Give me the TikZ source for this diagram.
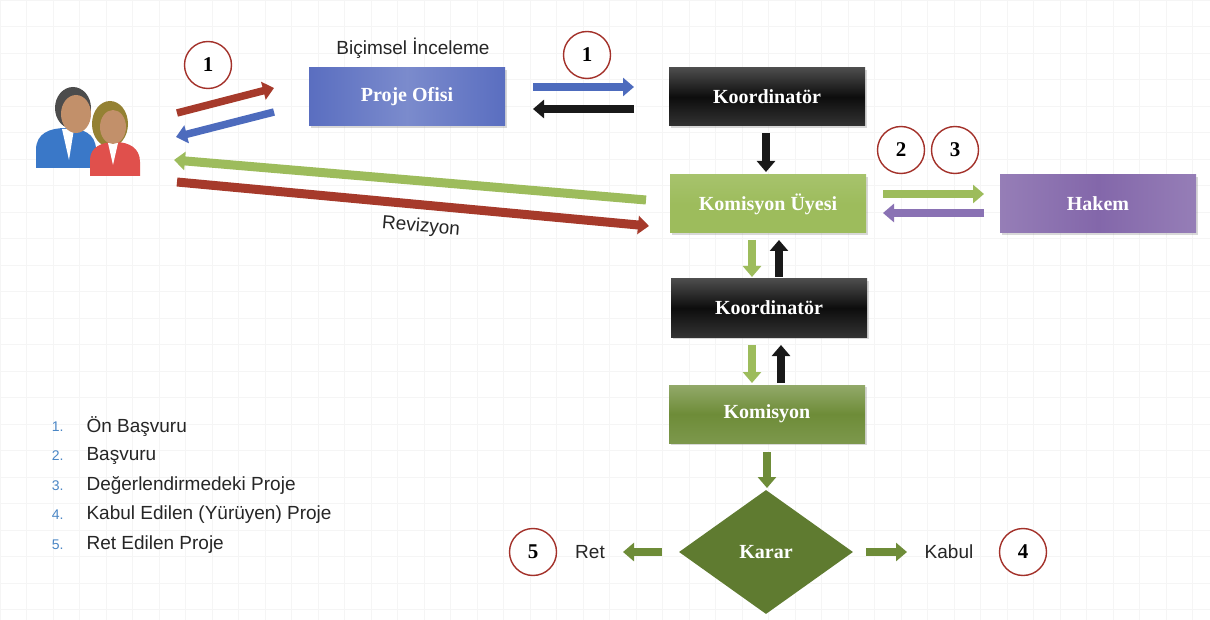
\documentclass[tikz,border=0pt]{standalone}
\usepackage{fontspec}
\setmainfont{Liberation Sans}
\newfontfamily\boxfont{Liberation Serif}
\usetikzlibrary{arrows.meta,shapes.geometric,shadows}

\definecolor{ofisblue}{HTML}{5A6EC0}
\definecolor{uyegreen}{HTML}{9DBC5C}
\definecolor{hakempurple}{HTML}{8367AA}
\definecolor{komolive}{HTML}{6E8C38}
\definecolor{kararolive}{HTML}{5F7B30}
\definecolor{arrred}{HTML}{A63A2B}
\definecolor{arrblue}{HTML}{4D6BBD}
\definecolor{arrpurple}{HTML}{8A72B4}
\definecolor{circred}{HTML}{A3312A}
\definecolor{listblue}{HTML}{4A86C5}
\definecolor{skin}{HTML}{C2906A}
\definecolor{manblue}{HTML}{3A78C8}
\definecolor{womanred}{HTML}{E0504C}

\begin{document}
\begin{tikzpicture}[x=1pt,y=-1pt,
    stagebox/.style={minimum width=196pt,minimum height=58pt,inner sep=0pt,text=white,
      font=\boxfont\bfseries\fontsize{20}{24}\selectfont,
      drop shadow={opacity=0.3,shadow xshift=1.5pt,shadow yshift=-2pt}},
    numcircle/.style={circle,draw=circred,line width=1.4pt,fill=white,minimum size=47pt,
      inner sep=0pt,font=\boxfont\bfseries\fontsize{21}{24}\selectfont},
    blockarrow/.style={line width=7.5pt,-{Triangle[length=11pt,width=18pt]}},
    plaintext/.style={font=\fontsize{19}{22}\selectfont,text=black!85}]

    % Fix the page and draw the faint grid
    \useasboundingbox (0,0) rectangle (1210,620);
    \fill[white] (0,0) rectangle (1210,620);
    \draw[black!4,step=26.5pt] (0,0) grid (1210,620);

    % Draw the applicants
    \fill[manblue] (36,168) -- (36,150) .. controls (36,133) and (50,128) .. (66,128)
        .. controls (82,128) and (96,133) .. (96,150) -- (96,168) -- cycle;
    \fill[white] (62,129) -- (74,129) -- (69,160) -- cycle;
    \fill[black!70] (73,108) ellipse [x radius=18, y radius=21];
    \fill[skin] (76,114) ellipse [x radius=15, y radius=19];
    \fill[black!25!olive!60!brown] (110,124) ellipse [x radius=18, y radius=23];
    \fill[womanred] (90,176) -- (90,160) .. controls (90,147) and (102,142) .. (115,142)
        .. controls (129,142) and (140,148) .. (140,162) -- (140,176) -- cycle;
    \fill[white] (108,143) -- (118,143) -- (113,165) -- cycle;
    \fill[skin] (113,127) ellipse [x radius=13, y radius=17];

    % Draw the boxes
    \node[stagebox,left color=ofisblue,right color=ofisblue,middle color=ofisblue!80!white] (ofis) at (407,97) {Proje Ofisi};
    \node[stagebox,top color=black!70,bottom color=black!80,middle color=black!95] (koord1) at (767,97) {Koordinatör};
    \node[stagebox,top color=uyegreen!90!white,bottom color=uyegreen,middle color=uyegreen] (uye) at (768,204) {Komisyon Üyesi};
    \node[stagebox,left color=hakempurple!85!white,right color=hakempurple!85!white,middle color=hakempurple] (hakem) at (1098,204) {Hakem};
    \node[stagebox,top color=black!70,bottom color=black!80,middle color=black!95] (koord2) at (769,308) {Koordinatör};
    \node[stagebox,top color=komolive!75!white,bottom color=komolive!90!white,middle color=komolive] (komisyon) at (767,414) {Komisyon};
    \node[diamond,fill=kararolive,minimum width=174pt,minimum height=124pt,aspect=1.4,inner sep=0pt,
        text=white,font=\boxfont\bfseries\fontsize{20}{24}\selectfont] (karar) at (766,552) {Karar};

    % Label the steps
    \node[plaintext] (bicimsel) at (413,48) {Biçimsel İnceleme};
    \node[plaintext,rotate=-5] (revizyon) at (421,227) {Revizyon};
    \node[plaintext] (ret) at (590,552) {Ret};
    \node[plaintext] (kabul) at (949,552) {Kabul};

    % Draw the numbered circles
    \node[numcircle] (c1a) at (208,65) {1};
    \node[numcircle] (c1b) at (587,55) {1};
    \node[numcircle] (c2) at (901,150) {2};
    \node[numcircle] (c3) at (955,150) {3};
    \node[numcircle] (c5) at (533,552) {5};
    \node[numcircle] (c4) at (1023,552) {4};

    % Arrow end points
    \coordinate (a1) at (177,113); \coordinate (a2) at (274,88);
    \coordinate (b1) at (274,112); \coordinate (b2) at (176,137);
    \coordinate (c1) at (533,87);  \coordinate (c2r) at (634,87);
    \coordinate (d1) at (634,109); \coordinate (d2) at (533,109);
    \coordinate (e1) at (766,133); \coordinate (e2) at (766,172);
    \coordinate (g1) at (646,200); \coordinate (g2) at (174,160);
    \coordinate (h1) at (177,182); \coordinate (h2) at (649,226);
    \coordinate (k1) at (883,194); \coordinate (k2) at (984,194);
    \coordinate (m1) at (984,213); \coordinate (m2) at (883,213);
    \coordinate (n1) at (752,240); \coordinate (n2) at (752,277);
    \coordinate (p1) at (779,277); \coordinate (p2) at (779,240);
    \coordinate (q1) at (752,345); \coordinate (q2) at (752,383);
    \coordinate (s1) at (781,383); \coordinate (s2) at (781,345);
    \coordinate (t1) at (767,452); \coordinate (t2) at (767,488);
    \coordinate (u1) at (662,552); \coordinate (u2) at (623,552);
    \coordinate (v1) at (866,552); \coordinate (v2) at (907,552);

    % Draw the arrows
    \draw[blockarrow,arrred] (a1) -- (a2);
    \draw[blockarrow,arrblue] (b1) -- (b2);
    \draw[blockarrow,arrblue] (c1) -- (c2r);
    \draw[blockarrow,black!90] (d1) -- (d2);
    \draw[blockarrow,black!90] (e1) -- (e2);
    \draw[blockarrow,uyegreen,line width=9pt] (g1) -- (g2);
    \draw[blockarrow,arrred,line width=9pt] (h1) -- (h2);
    \draw[blockarrow,uyegreen] (k1) -- (k2);
    \draw[blockarrow,arrpurple] (m1) -- (m2);
    \draw[blockarrow,uyegreen] (n1) -- (n2);
    \draw[blockarrow,black!90] (p1) -- (p2);
    \draw[blockarrow,uyegreen] (q1) -- (q2);
    \draw[blockarrow,black!90] (s1) -- (s2);
    \draw[blockarrow,komolive] (t1) -- (t2);
    \draw[blockarrow,komolive] (u1) -- (u2);
    \draw[blockarrow,komolive] (v1) -- (v2);

    % Draw the legend
    \foreach \txt [count=\i] in {Ön Başvuru,Başvuru,Değerlendirmedeki Proje,Kabul Edilen (Yürüyen) Proje,Ret Edilen Proje}{
        \node[anchor=east,text=listblue,font=\fontsize{14}{16}\selectfont] (num\i) at (67,397+29.5*\i) {\i.};
        \node[plaintext,anchor=west] (item\i) at (83,397+29.5*\i) {\txt};
    }
\end{tikzpicture}
\end{document}
